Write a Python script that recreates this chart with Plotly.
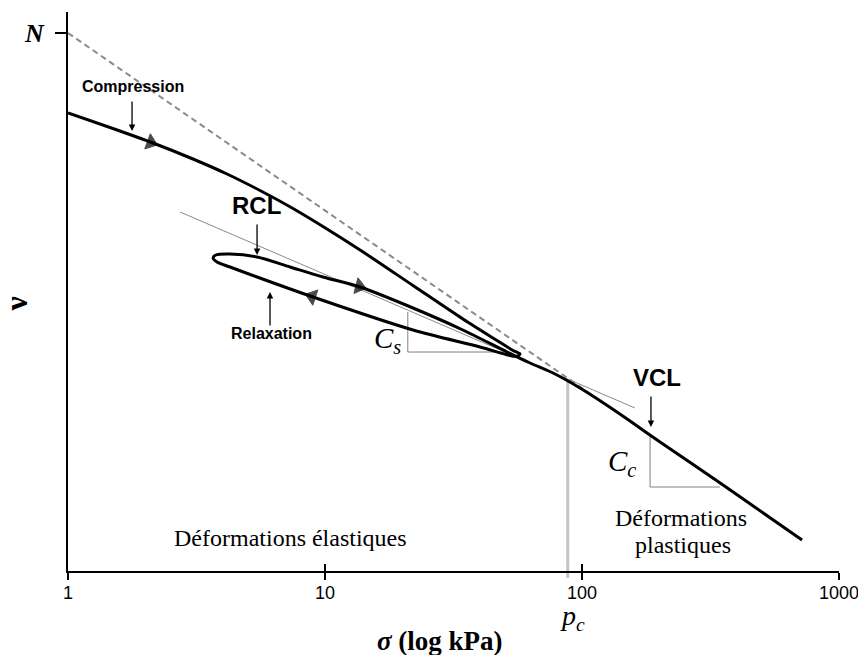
import numpy as np
import plotly.graph_objects as go

# ---------------- data (sigma in kPa, v = specific volume, arbitrary units) ----------------
# Compression -> unloading (relaxation) -> reloading -> VCL
path_sigma = [1.0, 1.457, 2.142, 3.064, 4.156, 5.586, 7.508, 10.18, 13.69, 22.0, 34.4, 46.7, 53.9, 57.4, 55.4,
              51.5, 40.1, 22.0, 8.98, 5.44, 4.27, 3.80, 3.67, 3.76,
              4.27, 5.44, 7.31, 9.82, 13.7, 22.0, 34.4, 51.1,
              62.8, 78.5, 98.2, 122.9, 153.8, 201.2, 354.0, 718.0]
path_v = [2.340, 2.311, 2.280, 2.248, 2.218, 2.185, 2.149, 2.108, 2.066, 1.995, 1.928, 1.885, 1.865, 1.858, 1.853,
          1.856, 1.872, 1.906, 1.972, 2.012, 2.032, 2.042, 2.050, 2.056,
          2.058, 2.052, 2.032, 2.012, 1.992, 1.950, 1.906, 1.862,
          1.840, 1.818, 1.790, 1.758, 1.724, 1.682, 1.596, 1.486]

# Normal consolidation line (dashed)
ncl_sigma = [1.0, 718.0]
ncl_v = [2.500, 1.486]

# Recompression line (thin grey)
rcl_sigma = [2.73, 160.7]
rcl_v = [2.142, 1.750]

# slope triangles
cs_sigma = [21.0, 21.0, 50.2]
cs_v = [1.942, 1.862, 1.862]
cc_sigma = [184.0, 184.0, 344.0]
cc_v = [1.694, 1.592, 1.592]

# preconsolidation pressure
pc = 88.0

# direction arrows on the curve: (previous point, arrow position)
arrow_sigma = [[1.457, 2.10], [9.82, 13.6], [22.0, 8.90]]
arrow_v = [[2.311, 2.281], [2.012, 1.993], [1.906, 1.973]]

# axis
x_ticks = [1, 10, 100, 1000]
x_ticklabels = ["1", "10", "100", "1000"]
N_value = 2.5
y_range = [1.424, 2.542]

SERIF = "Liberation Serif"
SANS = "Liberation Sans"

fig = go.Figure()

fig.add_trace(go.Scatter(x=ncl_sigma, y=ncl_v, mode="lines",
                         line=dict(color="#8a8a8a", width=2, dash="6px,4px"),
                         hoverinfo="skip", showlegend=False))
fig.add_trace(go.Scatter(x=rcl_sigma, y=rcl_v, mode="lines",
                         line=dict(color="#8a8a8a", width=1),
                         hoverinfo="skip", showlegend=False))
fig.add_trace(go.Scatter(x=cs_sigma, y=cs_v, mode="lines",
                         line=dict(color="#808080", width=1),
                         hoverinfo="skip", showlegend=False))
fig.add_trace(go.Scatter(x=cc_sigma, y=cc_v, mode="lines",
                         line=dict(color="#808080", width=1),
                         hoverinfo="skip", showlegend=False))
fig.add_trace(go.Scatter(x=path_sigma, y=path_v, mode="lines",
                         line=dict(color="black", width=3, shape="spline", smoothing=0.8),
                         hoverinfo="skip", showlegend=False))
for xs, ys in zip(arrow_sigma, arrow_v):
    fig.add_trace(go.Scatter(x=xs, y=ys, mode="markers",
                             marker=dict(symbol="triangle-up", size=[0, 14], color="black",
                                         angleref="previous", line=dict(width=1, color="black")),
                             hoverinfo="skip", showlegend=False))

# invisible trace for the overlaid inner-tick axis
fig.add_trace(go.Scatter(x=[1], y=[y_range[0]], xaxis="x2", mode="markers",
                         marker=dict(size=0, opacity=0), hoverinfo="skip", showlegend=False))

# pc vertical line (from RCL intersection to slightly below axis)
v_top = float(np.interp(np.log10(pc), np.log10(rcl_sigma), rcl_v))
fig.add_shape(type="line", xref="x", yref="paper", x0=pc, x1=pc,
              y0=-0.0125, y1=(v_top - y_range[0]) / (y_range[1] - y_range[0]),
              line=dict(color="#c4c4c4", width=3), layer="below")

ann = []

def txt(text, x, y, size, family=SERIF, xanchor="center", yanchor="middle", angle=0):
    ann.append(dict(text=text, x=x, y=y, xref="paper", yref="paper", showarrow=False,
                    font=dict(family=family, size=size, color="black"),
                    xanchor=xanchor, yanchor=yanchor, textangle=angle))

def arr(sig, v, length):
    ann.append(dict(text="", x=np.log10(sig), y=v, xref="x", yref="y", showarrow=True,
                    ax=0, ay=-length, arrowhead=2, arrowsize=1, arrowwidth=1.3,
                    arrowcolor="black"))

txt("<b>Compression</b>", 0.0843, 0.8676, 16, SANS)
txt("<b>RCL</b>", 0.2451, 0.6530, 24, SANS)
txt("<b>Relaxation</b>", 0.2633, 0.4240, 16, SANS)
txt("<b>VCL</b>", 0.7639, 0.3453, 24, SANS)
txt("<i>C<sub>s</sub></i>", 0.4150, 0.4132, 29)
txt("<i>C<sub>c</sub></i>", 0.7185, 0.1932, 29)
txt("Déformations élastiques", 0.2892, 0.0590, 24)
txt("Déformations", 0.7950, 0.0948, 24)
txt("plastiques", 0.7977, 0.0465, 24)
txt("<i>p<sub>c</sub></i>", 0.6537, -0.0823, 28)
txt("<b><i>σ</i> (log kPa)</b>", 0.4825, -0.1252, 27)
txt("<b>ν</b>", -0.068, 0.4776, 32, angle=-90)

arr(1.775, 2.304, 31)      # Compression
arr(5.44, 2.056, 32)       # RCL
arr(6.11, 1.982, -35)      # Relaxation
arr(185.5, 1.712, 32)      # VCL

fig.update_layout(
    width=866, height=655,
    margin=dict(l=60, r=35, t=4, b=92, autoexpand=False),
    plot_bgcolor="white", paper_bgcolor="white",
    annotations=ann,
    xaxis=dict(type="log", range=[0, 3], tickvals=x_ticks, ticktext=x_ticklabels,
               ticks="outside", ticklen=7, tickwidth=2, tickcolor="black", automargin=False,
               showline=True, linecolor="black", linewidth=2, showgrid=False, zeroline=False,
               tickfont=dict(family=SANS, size=18, color="black"), ticklabelstandoff=-3),
    xaxis2=dict(type="log", range=[0, 3], overlaying="x", anchor="y", side="bottom",
                tickvals=x_ticks, ticks="inside", ticklen=7, tickwidth=2, tickcolor="black",
                automargin=False,
                showticklabels=False, showline=False, showgrid=False, zeroline=False),
    yaxis=dict(range=y_range, tickvals=[N_value], ticktext=["<b><i>N</i></b>"],
               ticks="outside", ticklen=11, tickwidth=2, tickcolor="black", automargin=False,
               showline=True, linecolor="black", linewidth=2, showgrid=False, zeroline=False,
               tickfont=dict(family=SERIF, size=26, color="black"), ticklabelstandoff=6),
)

fig.write_html("out.html")
